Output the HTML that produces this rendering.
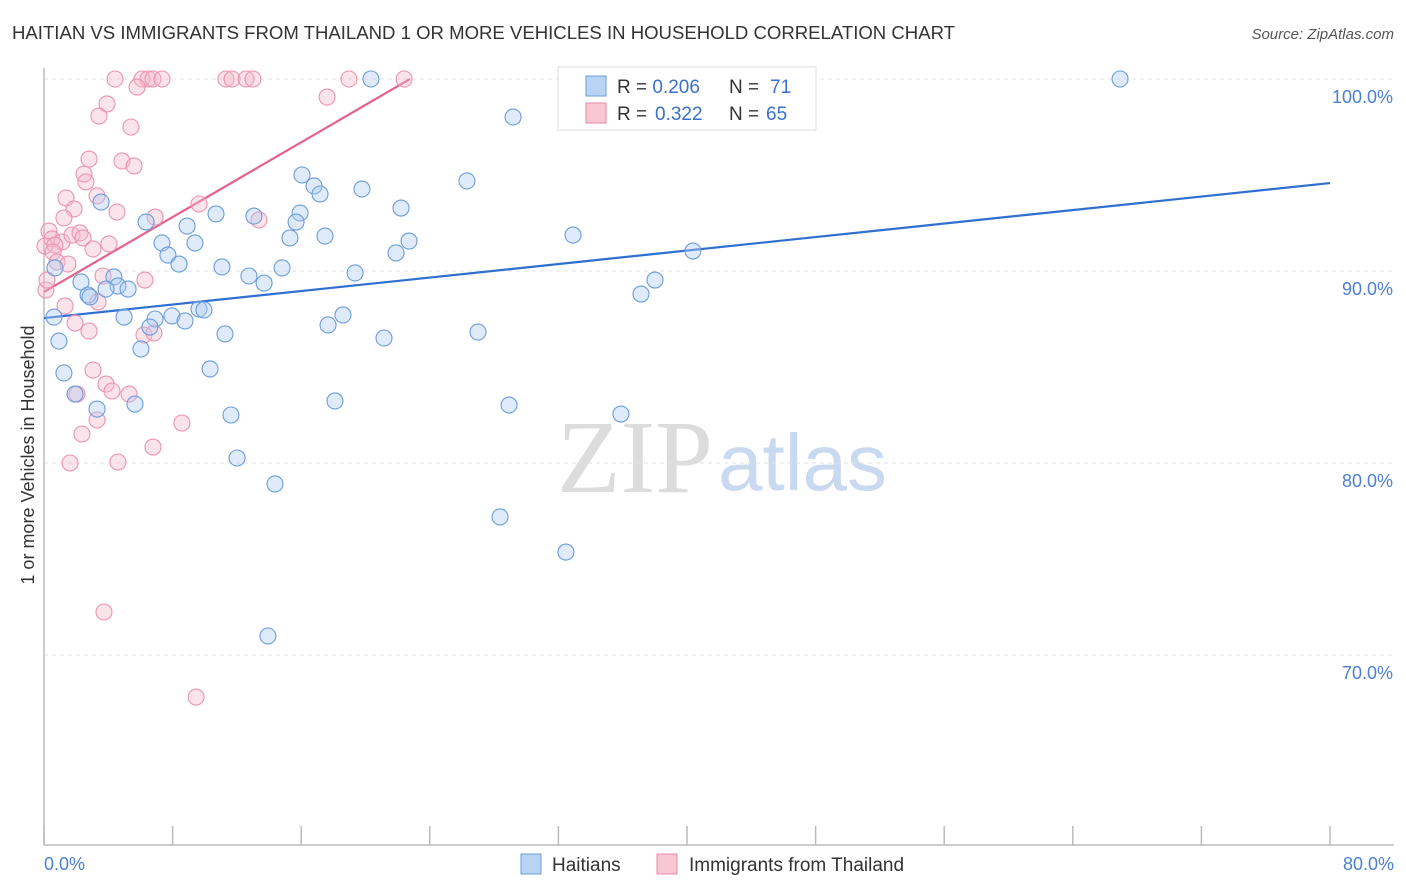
<!DOCTYPE html>
<html><head><meta charset="utf-8">
<style>
body{margin:0;background:#fff;}
svg{display:block;font-family:"Liberation Sans",sans-serif;}
</style></head>
<body>
<svg id="chart" width="1406" height="892" viewBox="0 0 1406 892">
<text x="12" y="39" font-size="18" fill="#333" textLength="943" lengthAdjust="spacingAndGlyphs">HAITIAN VS IMMIGRANTS FROM THAILAND 1 OR MORE VEHICLES IN HOUSEHOLD CORRELATION CHART</text>
<text x="1394" y="39" font-size="15" fill="#555" font-style="italic" text-anchor="end">Source: ZipAtlas.com</text>
<g>
<text x="713" y="492" font-size="104" fill="#dcdcdc" text-anchor="end" font-family="Liberation Serif,serif">ZIP</text>
<text x="718" y="490" font-size="80" fill="#c9d9f0">atlas</text>
</g>
<g id="grid"></g>
<g id="axes"></g>
<g id="lines"></g>
<g id="points"></g>
<text transform="translate(34,455) rotate(-90)" font-size="18" fill="#333" text-anchor="middle">1 or more Vehicles in Household</text>
<text x="44" y="870" font-size="18" fill="#4a7fd4">0.0%</text>
<text x="1394" y="870" font-size="18" fill="#4a7fd4" text-anchor="end">80.0%</text>
<g>
<rect x="558" y="67" width="258" height="63" fill="#fff" stroke="#ddd"/>
<rect x="586" y="76" width="20" height="20" fill="#b8d3f5" stroke="#6a9fd8"/>
<text x="617" y="93" font-size="19" fill="#333">R = <tspan fill="#3a70cc">0.206</tspan><tspan x="729">N = </tspan><tspan x="770" fill="#3a70cc">71</tspan></text>
<rect x="586" y="103" width="20" height="20" fill="#f9c6d4" stroke="#e98aa8"/>
<text x="617" y="120" font-size="19" fill="#333">R = <tspan x="655" fill="#3a70cc">0.322</tspan><tspan x="729">N = </tspan><tspan x="766" fill="#3a70cc">65</tspan></text>
</g>
<g>
<rect x="521" y="854" width="20" height="20" fill="#b8d3f5" stroke="#6a9fd8"/>
<text x="552" y="871" font-size="19" fill="#333">Haitians</text>
<rect x="657" y="854" width="20" height="20" fill="#f9c6d4" stroke="#e98aa8"/>
<text x="689" y="871" font-size="19" fill="#333">Immigrants from Thailand</text>
</g>
</svg>
<script>
const yTicks=[100,90,80,70];
const yTickLabels=["100.0%","90.0%","80.0%","70.0%"];
const xTicks=[0,8,16,24,32,40,48,56,64,72,80];
const blueX=[20.34,66.94,29.18,3.55,6.35,8.90,10.70,13.06,16.05,16.80,17.17,19.78,22.21,26.31,15.93,15.68,15.30,17.48,22.71,21.90,32.91,40.37,7.34,9.39,7.71,8.40,11.07,12.75,13.69,14.81,19.35,0.68,2.30,4.35,4.60,5.23,3.86,2.74,2.86,0.62,4.98,6.91,7.96,8.77,6.59,9.64,9.95,11.26,17.67,18.60,21.15,27.00,38.01,37.14,0.93,6.03,1.24,10.33,1.93,3.30,5.66,11.63,18.10,28.93,35.89,12.01,14.37,28.37,32.47,13.93];
const blueY=[100,100,98.02,93.59,92.55,92.34,92.97,92.86,95.0,94.43,94.01,94.27,93.28,94.69,93.02,92.55,91.72,91.82,91.56,90.94,91.87,91.04,91.46,91.46,90.83,90.36,90.21,89.74,89.37,90.16,89.90,90.16,89.43,89.69,89.22,89.06,89.06,88.75,88.65,87.60,87.60,87.5,87.66,87.40,87.08,88.02,87.97,86.72,87.19,87.71,86.51,86.82,89.53,88.80,86.35,85.94,84.69,84.90,83.59,82.81,83.07,82.5,83.23,83.02,82.55,80.26,78.91,77.19,75.36,70.99];
const pinkX=[4.42,6.10,6.47,6.78,7.34,11.32,11.70,12.57,13.00,18.97,22.40,5.79,3.92,3.42,5.41,17.61,2.80,4.85,5.60,2.49,2.61,1.37,3.30,1.87,4.54,1.24,6.91,9.64,13.37,0.31,0.50,1.12,1.74,2.24,2.43,0.06,0.68,3.05,4.04,0.56,0.81,1.49,3.67,6.28,1.31,3.36,1.93,2.80,6.22,6.84,3.05,3.86,4.23,5.29,2.05,3.30,2.36,8.58,6.78,1.62,4.60,3.73,9.46,0.12,0.19];
const pinkY=[100,100,100,100,100,100,100,100,100,100,100,99.58,98.70,98.07,97.5,99.06,95.83,95.73,95.47,95.05,94.64,93.80,93.91,93.23,93.07,92.76,92.81,93.49,92.66,92.08,91.67,91.51,91.87,91.98,91.72,91.30,91.35,91.15,91.41,90.99,90.47,90.36,89.74,89.53,88.18,88.39,87.29,86.87,86.67,86.77,84.84,84.11,83.75,83.59,83.59,82.24,81.51,82.08,80.83,80.0,80.05,72.24,67.81,89.01,89.53];
const blueTrendX=[0,80];
const blueTrendY=[87.55,94.58];
const pinkTrendX=[0,22.77];
const pinkTrendY=[88.91,100];

const X0=44,X1=1330,Y100=79,PPY=19.2;
function sx(v){return X0+(v/80)*(X1-X0);}
function sy(v){return Y100+(100-v)*PPY;}
const NS="http://www.w3.org/2000/svg";
function mk(tag,attrs,parent){const e=document.createElementNS(NS,tag);for(const k in attrs)e.setAttribute(k,attrs[k]);parent.appendChild(e);return e;}
const grid=document.getElementById('grid'),axes=document.getElementById('axes'),lines=document.getElementById('lines'),pts=document.getElementById('points');
yTicks.forEach((t,i)=>{
  const l=mk('line',{x1:X0,x2:1394,y1:sy(t),y2:sy(t),stroke:'#e2e2e2','stroke-dasharray':'4,4'},grid);
  
  
  const tx=mk('text',{x:1393,y:sy(t)+24,'font-size':18,fill:'#4a7fd4','text-anchor':'end'},grid);
  tx.textContent=yTickLabels[i];
  
  
});
const ya=mk('line',{x1:X0,x2:X0,y1:68,y2:845,stroke:'#bbb','stroke-width':1.5},axes);


const xa=mk('line',{x1:X0,x2:1394,y1:845,y2:845,stroke:'#bbb','stroke-width':1.5},axes);


xTicks.forEach(t=>{
  const tk=mk('line',{x1:sx(t),x2:sx(t),y1:826,y2:845,stroke:'#bbb','stroke-width':1.5},axes);
  
  
});
function drawPts(xs,ys,fill,stroke,name){
  xs.forEach((x,i)=>{
    const c=mk('circle',{cx:sx(x),cy:sy(ys[i]),r:8,fill:fill,'fill-opacity':0.4,stroke:stroke,'stroke-width':1.1},pts);
    
    
  });
}
drawPts(pinkX,pinkY,'#f6b8cb','#ec93b0','thailand-point');
drawPts(blueX,blueY,'#aecbf2','#6a9ddb','haitian-point');
const bl=mk('line',{x1:sx(blueTrendX[0]),y1:sy(blueTrendY[0]),x2:sx(blueTrendX[1]),y2:sy(blueTrendY[1]),stroke:'#2f6fd0','stroke-width':2.2},lines);


const pl=mk('line',{x1:sx(pinkTrendX[0]),y1:sy(pinkTrendY[0]),x2:sx(pinkTrendX[1]),y2:sy(pinkTrendY[1]),stroke:'#e5628c','stroke-width':2.2},lines);


</script>
</body></html>
